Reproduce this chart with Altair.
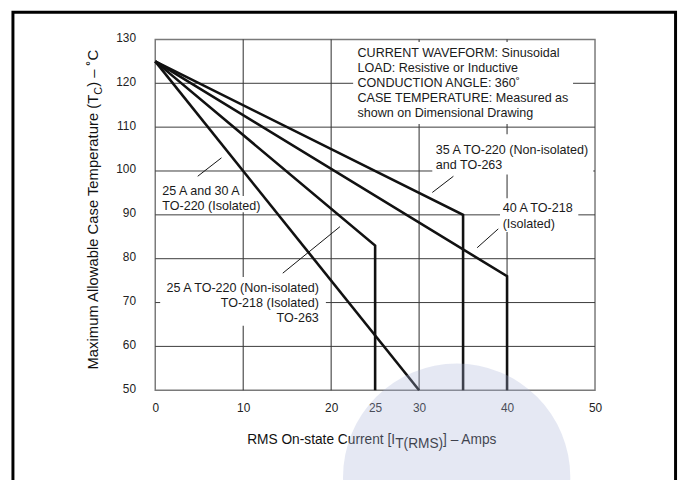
import altair as alt
import pandas as pd

FONT = "Liberation Sans, Arial, Helvetica, sans-serif"

# ---- axis values ----
x_ticks = [0, 10, 20, 25, 30, 40, 50]
y_ticks = [50, 60, 70, 80, 90, 100, 110, 120, 130]
x_grid = [10, 20, 30, 40]
y_grid = [60, 70, 80, 90, 100, 110, 120]

# ---- derating curves ----
curve_id = ["A", "A", "B", "B", "B", "C", "C", "C", "D", "D", "D"]
curve_current = [0, 30, 0, 25, 25, 0, 35, 35, 0, 40, 40]
curve_temp = [125, 50, 125, 83, 50, 125, 90, 50, 125, 76, 50]
curve_order = [0, 1, 0, 1, 2, 0, 1, 2, 0, 1, 2]

# ---- annotations ----
ann_text = [
    "CURRENT WAVEFORM: Sinusoidal",
    "LOAD: Resistive or Inductive",
    "CONDUCTION ANGLE: 360˚",
    "CASE TEMPERATURE: Measured as",
    "shown on Dimensional Drawing",
    "35 A TO-220 (Non-isolated)",
    "and TO-263",
    "40 A TO-218",
    "(Isolated)",
    "25 A and 30 A",
    "TO-220 (Isolated)",
    "25 A TO-220 (Non-isolated)",
    "TO-218 (Isolated)",
    "TO-263",
]
ann_x = [23.0, 23.0, 23.0, 23.0, 23.0, 31.9, 31.9, 39.5, 39.5, 0.8, 0.8, 18.6, 18.6, 18.6]
ann_y = [126.9, 123.4, 120.0, 116.6, 113.2, 104.8, 101.3, 91.5, 87.9, 95.4, 92.0, 73.3, 69.9, 66.5]
ann_align = ["left"] * 11 + ["right"] * 3

# white backgrounds behind annotation blocks
bg_x1 = [22.5, 31.5, 39.2, 0.56, 0.56]
bg_x2 = [47.5, 49.8, 48.1, 12.1, 19.4]
bg_y1 = [110.7, 99.2, 86.1, 90.6, 64.7]
bg_y2 = [129.4, 108.4, 93.8, 94.3, 75.8]

# leader lines
ptr_x1 = [4.83, 14.5, 31.5, 36.6]
ptr_y1 = [98.8, 76.7, 95.1, 82.5]
ptr_x2 = [7.53, 21.0, 33.9, 39.0]
ptr_y2 = [103.0, 87.3, 98.8, 86.8]

W, H = 445, 355
xs = alt.Scale(domain=[0, 50], nice=False, zero=False)
ys = alt.Scale(domain=[50, 130], nice=False, zero=False)

axis_common = dict(grid=False, ticks=False, tickSize=0, domain=False, title=None,
                   labelFont=FONT, labelFontSize=12, labelColor="#222", labelFlush=False)
xax = alt.Axis(values=x_ticks, labelPadding=13, **axis_common)
yax = alt.Axis(values=y_ticks, labelPadding=20, labelOffset=-2, **axis_common)

curves = pd.DataFrame({"id": curve_id, "x": curve_current, "y": curve_temp, "o": curve_order})
ann = pd.DataFrame({"text": ann_text, "x": ann_x, "y": ann_y, "align": ann_align})
bg = pd.DataFrame({"x": bg_x1, "x2": bg_x2, "y": bg_y1, "y2": bg_y2})
ptr = pd.DataFrame({"x": ptr_x1, "y": ptr_y1, "x2": ptr_x2, "y2": ptr_y2})

X = alt.X("x:Q", scale=xs, axis=xax)
Y = alt.Y("y:Q", scale=ys, axis=yax)

vgrid = alt.Chart(pd.DataFrame({"x": x_grid})).mark_rule(color="#2a2a2a", strokeWidth=1).encode(x=X)
hgrid = alt.Chart(pd.DataFrame({"y": y_grid})).mark_rule(color="#3a3a3a", strokeWidth=1).encode(y=Y)
bgs = alt.Chart(bg).mark_rect(color="white").encode(x=X, x2="x2:Q", y=Y, y2="y2:Q")

lines = alt.Chart(curves).mark_line(color="#111", strokeWidth=2.6, strokeJoin="miter").encode(
    x=X, y=Y, detail="id:N", order="o:Q",
)
ptrs = alt.Chart(ptr).mark_rule(color="#111", strokeWidth=1).encode(x=X, x2="x2:Q", y=Y, y2="y2:Q")
txt_l = alt.Chart(ann).transform_filter(alt.datum.align == "left").mark_text(
    align="left", baseline="middle", font=FONT, fontSize=12.7, color="#1a1a1a"
).encode(x=X, y=Y, text="text:N")
txt_r = alt.Chart(ann).transform_filter(alt.datum.align == "right").mark_text(
    align="right", baseline="middle", font=FONT, fontSize=12.7, color="#1a1a1a"
).encode(x=X, y=Y, text="text:N")

one = pd.DataFrame({"k": [0]})
# axis titles (with subscripts)
XT = 13.9
xt_main = alt.Chart(one).mark_text(text="RMS On-state Current [I", align="left", baseline="alphabetic",
                                   font=FONT, fontSize=XT, color="#111").encode(x=alt.value(93), y=alt.value(409))
xt_sub = alt.Chart(one).mark_text(text="T(RMS)", align="left", baseline="alphabetic",
                                  font=FONT, fontSize=XT, color="#111").encode(x=alt.value(242.8), y=alt.value(413.5))
xt_tail = alt.Chart(one).mark_text(text="] – Amps", align="left", baseline="alphabetic",
                                   font=FONT, fontSize=XT, color="#111").encode(x=alt.value(291.2), y=alt.value(409))
yt_main = alt.Chart(one).mark_text(text="Maximum Allowable Case Temperature (T", align="right", baseline="alphabetic",
                                   angle=270, font=FONT, fontSize=15, color="#111").encode(x=alt.value(-58), y=alt.value(56))
yt_sub = alt.Chart(one).mark_text(text="C", align="left", baseline="alphabetic",
                                  angle=270, font=FONT, fontSize=11, color="#111").encode(x=alt.value(-54), y=alt.value(56))
yt_tail = alt.Chart(one).mark_text(text=") – ˚C", align="left", baseline="alphabetic",
                                   angle=270, font=FONT, fontSize=15, color="#111").encode(x=alt.value(-58), y=alt.value(48))

# faint logo watermark in the lower right of the source image
watermark = alt.Chart(one).mark_point(shape="circle", filled=True, color="#aab4d7", opacity=0.3,
                                      size=230 * 230).encode(x=alt.value(305), y=alt.value(443))

border = alt.Chart(one).mark_rect(fillOpacity=0, stroke="black", strokeWidth=3).encode(
    x=alt.value(-144), x2=alt.value(526.5), y=alt.value(-27.5), y2=alt.value(480)
)

chart = alt.layer(
    vgrid, hgrid, bgs, lines, ptrs, txt_l, txt_r,
    xt_main, xt_sub, xt_tail, yt_main, yt_sub, yt_tail, watermark, border
).properties(
    width=W, height=H,
    padding={"left": 149, "top": 29, "right": 86, "bottom": 88},
    autosize=alt.AutoSizeParams(type="none"),
).configure_view(stroke="#7a7a7a", strokeWidth=1.5)

chart.save("out.html", embed_options={"renderer": "svg", "actions": False})
